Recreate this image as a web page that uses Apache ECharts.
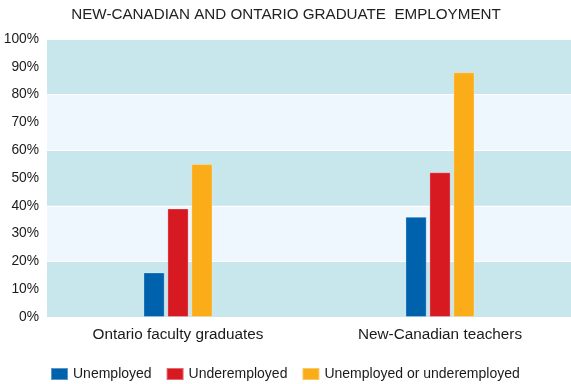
<!DOCTYPE html>
<html><head><meta charset="utf-8">
<script src="https://cdn.jsdelivr.net/npm/echarts@6/dist/echarts.min.js"></script>
<style>html,body{margin:0;padding:0;background:#fff}#c{width:571px;height:384px}</style>
</head><body><div id="c"></div>
<script>
var categories = ['Ontario faculty graduates', 'New-Canadian teachers'];
var seriesNames = ['Unemployed', 'Underemployed', 'Unemployed or underemployed'];
var unemployed = [16, 36];
var underemployed = [39, 52];
var unemployedOrUnder = [55, 88];
var colors = ['#0061ad', '#d71a21', '#fbad19'];
var values = [unemployed, underemployed, unemployedOrUnder];

var chart = echarts.init(document.getElementById('c'), null, {renderer: 'canvas'});
var font = 'Liberation Sans, Arial, sans-serif';
chart.setOption({
  animation: false,
  title: {
    text: 'NEW-CANADIAN AND ONTARIO GRADUATE  EMPLOYMENT',
    left: 281, textAlign: 'center', top: 2,
    textStyle: {fontFamily: font, fontWeight: 'normal', fontSize: 15.2, color: '#222'}
  },
  grid: {left: 47, right: 0, top: 39, bottom: 67},
  legend: {
    bottom: 3, left: 50, padding: 0,
    itemWidth: 17, itemHeight: 12, itemGap: 14,
    icon: 'rect',
    textStyle: {fontFamily: font, fontSize: 14, color: '#1a1a1a'},
    data: seriesNames
  },
  xAxis: {
    type: 'category', data: categories,
    axisLine: {show: false}, axisTick: {show: false},
    axisLabel: {fontFamily: font, fontSize: 15.3, color: '#1a1a1a', margin: 10}
  },
  yAxis: [{
    type: 'value', min: 0, max: 100, interval: 10,
    axisLabel: {formatter: '{value}%', fontFamily: font, fontSize: 13.8, color: '#1a1a1a', margin: 8},
    splitLine: {show: false}, axisLine: {show: false}, axisTick: {show: false}
  }, {
    type: 'value', min: 0, max: 100, interval: 20, position: 'left',
    axisLabel: {show: false}, axisLine: {show: false}, axisTick: {show: false},
    splitLine: {show: true, lineStyle: {color: '#ffffff', width: 1}},
    splitArea: {show: true, areaStyle: {color: ['#c8e7ec', '#eef7fe']}}
  }],
  series: values.map(function (v, i) {
    return {
      name: seriesNames[i], type: 'bar', data: v, yAxisIndex: 0,
      barWidth: 21, barGap: '14%',
      itemStyle: {color: colors[i], borderColor: 'rgba(255,255,255,0.35)', borderWidth: 0.8}
    };
  })
});
</script></body></html>
